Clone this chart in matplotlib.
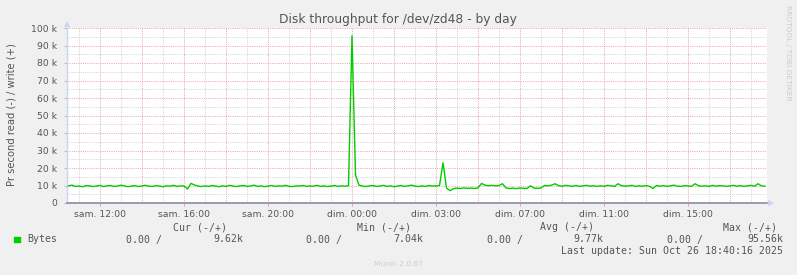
import numpy as np
import matplotlib
matplotlib.use("Agg")
import matplotlib.pyplot as plt
from matplotlib.patches import Polygon

# ---- data (kB/s, 10-minute samples starting Sat 10:30, hours since Sat 00:00 CEST) ----
start_hour = 10.5
step_hour = 1.0 / 6.0
bytes_k = [
    9.8, 10.2, 9.5, 9.7, 9.3, 9.9, 9.8, 9.4, 9.7, 10.1, 9.4, 9.8,
    10.0, 9.5, 9.7, 10.2, 9.8, 9.3, 9.7, 9.9, 9.4, 9.8, 10.1, 9.6,
    9.5, 9.9, 9.7, 9.3, 9.8, 9.6, 10.1, 9.5, 9.8, 9.7, 8.0, 11.2,
    10.3, 9.7, 9.4, 9.8, 9.5, 10.0, 9.7, 9.3, 9.8, 9.5, 10.1, 9.7,
    9.4, 9.8, 10.0, 9.5, 9.7, 10.2, 9.5, 9.8, 9.3, 9.7, 10.0, 9.5,
    9.8, 9.6, 10.1, 9.5, 9.4, 9.8, 9.7, 10.0, 9.5, 9.8, 9.6, 10.1,
    9.5, 9.8, 9.4, 9.7, 10.0, 9.5, 9.8, 9.6, 9.9, 95.56, 16.0, 10.2,
    9.7, 9.4, 9.8, 10.0, 9.5, 9.7, 10.1, 9.5, 9.8, 9.3, 9.7, 10.0,
    9.5, 9.8, 10.2, 9.7, 9.4, 9.8, 9.5, 10.0, 9.7, 9.8, 10.0, 23.0,
    8.6, 7.04, 8.2, 8.5, 8.3, 8.6, 8.4, 8.5, 8.3, 8.6, 11.2, 10.2,
    9.9, 10.1, 9.8, 10.0, 11.0, 8.6, 8.3, 8.5, 8.2, 8.6, 8.4, 8.3,
    9.8, 8.5, 8.4, 8.6, 10.0, 9.8, 10.2, 11.0, 9.9, 9.6, 10.1, 9.8,
    9.6, 10.0, 9.5, 9.8, 10.1, 9.6, 9.9, 9.5, 9.8, 9.6, 10.1, 9.8,
    9.5, 11.0, 9.9, 9.6, 9.8, 10.1, 9.5, 9.8, 9.6, 10.0, 9.5, 8.3,
    10.0, 9.6, 9.9, 9.5, 9.8, 10.2, 9.6, 9.5, 9.9, 9.8, 9.6, 11.0,
    9.9, 9.6, 9.8, 9.5, 10.1, 9.6, 9.9, 9.8, 9.5, 9.8, 10.1, 9.6,
    9.9, 9.5, 9.8, 10.1, 9.6, 11.0, 9.8, 9.62,
]
x_range = [10.43, 43.76]
tick_hours = [12, 16, 20, 24, 28, 32, 36, 40]
tick_labels = ["sam. 12:00", "sam. 16:00", "sam. 20:00", "dim. 00:00",
               "dim. 03:00", "dim. 07:00", "dim. 11:00", "dim. 15:00"]
y_ticks = [0, 10000, 20000, 30000, 40000, 50000, 60000, 70000, 80000, 90000, 100000]
y_tick_labels = ["0", "10 k", "20 k", "30 k", "40 k", "50 k", "60 k", "70 k", "80 k", "90 k", "100 k"]

title = "Disk throughput for /dev/zd48 - by day"
ylabel = "Pr second read (-) / write (+)"
legend_name = "Bytes"
cur_vals = ("0.00 /", "9.62k")
min_vals = ("0.00 /", "7.04k")
avg_vals = ("0.00 /", "9.77k")
max_vals = ("0.00 /", "95.56k")
last_update = "Last update: Sun Oct 26 18:40:16 2025"
footer = "Munin 2.0.67"
side = "RRDTOOL / TOBI OETIKER"

# ---- figure ----
W, H = 797, 275
BG = "#f0f0f0"
fig = plt.figure(figsize=(W / 100, H / 100), dpi=100, facecolor=BG)

def fx(px):
    return px / W

def fy(py):
    return 1 - py / H

L, R, T, B = 67, 767, 28, 203
ax = fig.add_axes([fx(L), fy(B), fx(R) - fx(L), fy(T) - fy(B)])
ax.set_facecolor("white")

t = start_hour + step_hour * np.arange(len(bytes_k))
vals = np.array(bytes_k) * 1000.0

ax.set_xlim(*x_range)
ax.set_ylim(0, 100000)

# grid
minor_c = "#d4d4d4"
major_c = "#eba8a8"
dots = (0, (1, 1.2))
gkw = dict(lw=0.72, ls=dots, zorder=1)
for h in np.arange(11, 44, 2):
    ax.axvline(h, color=minor_c, **gkw)
for h in np.arange(12, 44, 2):
    ax.axvline(h, color=major_c, **gkw)
for v in np.arange(5000, 100000, 10000):
    ax.axhline(v, color=minor_c, **gkw)
for v in np.arange(10000, 100001, 10000):
    ax.axhline(v, color=major_c, **gkw)

ax.plot(t, vals, color="#00cc00", lw=1.0, zorder=3)

for s in ["top", "right"]:
    ax.spines[s].set_visible(False)
ax.spines["left"].set_color("#ccd2f5")
ax.spines["left"].set_linewidth(1.0)
ax.spines["bottom"].set_color("#8a8aa6")
ax.spines["bottom"].set_linewidth(1.2)
ax.spines["bottom"].set_zorder(4)

ax.set_xticks(tick_hours)
ax.set_xticklabels(tick_labels)
ax.set_yticks(y_ticks)
ax.set_yticklabels(y_tick_labels)
ax.tick_params(axis="x", length=2, color=major_c, labelsize=6.7, labelcolor="#555555", pad=3)
ax.tick_params(axis="y", length=2, color="#bbbbbb", labelsize=6.7, labelcolor="#555555", pad=5)

# arrows (figure pixel coordinates)
def fig_poly(pts, color):
    p = Polygon([(fx(a), fy(b)) for a, b in pts], closed=True, transform=fig.transFigure,
                facecolor=color, edgecolor="none", figure=fig)
    fig.patches.append(p)

fig_poly([(64, 27), (70, 27), (67, 21)], "#ccd2f5")
fig_poly([(768, 200), (768, 206), (774, 203)], "#ccd2f5")

# texts
fig.text(fx(398), fy(19), title, ha="center", va="center", fontsize=8.8, color="#555555")
fig.text(fx(12), fy(115), ylabel, ha="center", va="center", rotation=90, fontsize=7.2, color="#555555")
fig.text(fx(788), fy(5), side, ha="center", va="top", rotation=-90, fontsize=5.4, color="#cccccc")

mono = dict(family="DejaVu Sans Mono", fontsize=7.1, color="#555555", va="center")
hy = fy(227)
fig.text(fx(173), hy, "Cur (-/+)", ha="left", **mono)
fig.text(fx(357), hy, "Min (-/+)", ha="left", **mono)
fig.text(fx(540), hy, "Avg (-/+)", ha="left", **mono)
fig.text(fx(777), hy, "Max (-/+)", ha="right", **mono)

ry = fy(239.5)
fig.patches.append(plt.Rectangle((fx(14), fy(242)), fx(5.5), fy(236.5) - fy(242),
                                 transform=fig.transFigure, color="#00cc00", figure=fig))
fig.text(fx(27), ry, legend_name, ha="left", **mono)
fig.text(fx(126), ry, cur_vals[0], ha="left", **mono)
fig.text(fx(243), ry, cur_vals[1], ha="right", **mono)
fig.text(fx(306), ry, min_vals[0], ha="left", **mono)
fig.text(fx(423), ry, min_vals[1], ha="right", **mono)
fig.text(fx(487), ry, avg_vals[0], ha="left", **mono)
fig.text(fx(603), ry, avg_vals[1], ha="right", **mono)
fig.text(fx(667), ry, max_vals[0], ha="left", **mono)
fig.text(fx(783), ry, max_vals[1], ha="right", **mono)
fig.text(fx(783), fy(251), last_update, ha="right", **mono)

fig.text(fx(398), fy(264), footer, ha="center", va="center", fontsize=5.4, color="#cccccc")

fig.savefig("out.png", dpi=100, facecolor=BG)
